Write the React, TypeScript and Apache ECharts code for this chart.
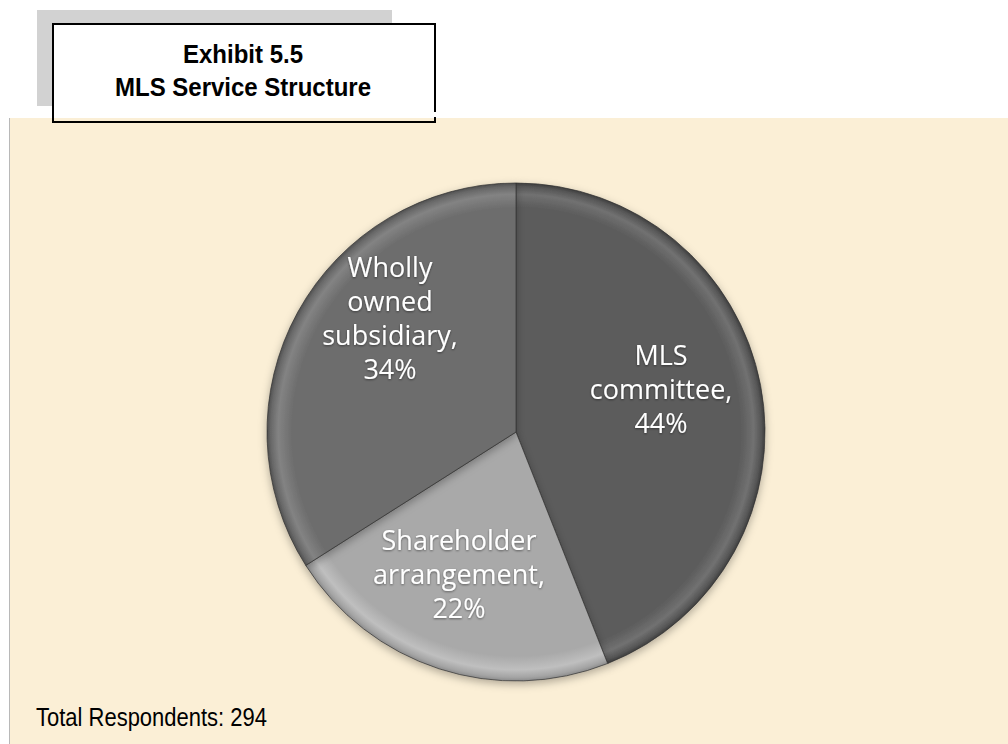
import React, { useEffect, useRef } from "react";
import * as echarts from "echarts";

const categories = ["MLS\ncommittee", "Shareholder\narrangement", "Wholly\nowned\nsubsidiary"];
const shares = [44, 22, 34];
const sliceColors = ["#5b5b5b", "#a9a9a9", "#6d6d6d"];
const labelSpots = [
  [661, 388],
  [459, 573],
  [390, 317],
];
const titleLines = ["Exhibit 5.5", "MLS Service Structure"];
const footnote = "Total Respondents: 294";

const CX = 516;
const CY = 432;
const R = 249;

function shade(hex: string, d: number) {
  const n = parseInt(hex.slice(1), 16);
  const c = (v: number) => Math.max(0, Math.min(255, v + d));
  const r = c((n >> 16) & 255), g = c((n >> 8) & 255), b = c(n & 255);
  return `rgb(${r},${g},${b})`;
}

function bevel(hex: string) {
  return new echarts.graphic.RadialGradient(
    CX,
    CY,
    R,
    [
      { offset: 0, color: hex },
      { offset: 0.9, color: hex },
      { offset: 0.955, color: shade(hex, 22) },
      { offset: 0.985, color: shade(hex, -5) },
      { offset: 1, color: shade(hex, -30) },
    ],
    true
  );
}

export default function App() {
  const ref = useRef<HTMLDivElement>(null);
  useEffect(() => {
    if (!ref.current) return;
    const chart = echarts.init(ref.current, null, { renderer: "svg" });
    chart.setOption({
      animation: false,
      backgroundColor: "#ffffff",
      graphic: [
        { type: "rect", shape: { x: 37, y: 10, width: 355, height: 96 }, style: { fill: "#d2d2d2" }, z: 1 },
        { type: "rect", shape: { x: 53, y: 24, width: 382, height: 94 }, style: { fill: "#ffffff" }, z: 2 },
        { type: "rect", shape: { x: 9, y: 118, width: 999, height: 626 }, style: { fill: "#fbefd6" }, z: 3 },
        { type: "line", shape: { x1: 9.5, y1: 118, x2: 9.5, y2: 744 }, style: { stroke: "#b8b8b8", lineWidth: 1 }, z: 4 },
        {
          type: "polyline",
          shape: { points: [[435, 112], [435, 24], [53, 24], [53, 122], [435, 122], [435, 117]] },
          style: { stroke: "#000000", lineWidth: 2, fill: null },
          z: 5,
        },
        {
          type: "text",
          x: 243,
          y: 54,
          scaleY: 1.07,
          style: {
            text: titleLines[0],
            font: 'bold 24px "Liberation Sans", Arial, sans-serif',
            fill: "#000000",
            align: "center",
            verticalAlign: "middle",
          },
          z: 6,
        },
        {
          type: "text",
          x: 243,
          y: 87,
          scaleY: 1.07,
          style: {
            text: titleLines[1],
            font: 'bold 24px "Liberation Sans", Arial, sans-serif',
            fill: "#000000",
            align: "center",
            verticalAlign: "middle",
          },
          z: 6,
        },
        {
          type: "text",
          x: 36,
          y: 717,
          scaleY: 1.2,
          style: {
            text: footnote,
            font: '22px "Liberation Sans", Arial, sans-serif',
            fill: "#000000",
            align: "left",
            verticalAlign: "middle",
          },
          z: 6,
        },
      ],
      series: [
        {
          type: "pie",
          center: [CX, CY],
          radius: [0, R],
          startAngle: 90,
          clockwise: true,
          z: 10,
          silent: true,
          itemStyle: {
            borderColor: "rgba(50,50,50,0.7)",
            borderWidth: 1,
            shadowBlur: 8,
            shadowOffsetY: 3,
            shadowColor: "rgba(0,0,0,0.3)",
          },
          label: {
            show: true,
            position: "inside",
            formatter: "{b},\n{c}%",
            color: "#ffffff",
            fontFamily: '"Open Sans", "Noto Sans", sans-serif',
            fontSize: 27,
            lineHeight: 34,
            align: "center",
            textShadowColor: "rgba(0,0,0,0.45)",
            textShadowBlur: 2,
            textShadowOffsetY: 1,
          },
          labelLine: { show: false },
          labelLayout: (p: any) => ({
            x: labelSpots[p.dataIndex][0],
            y: labelSpots[p.dataIndex][1],
            align: "center",
            verticalAlign: "middle",
          }),
          data: categories.map((name, i) => ({
            name,
            value: shares[i],
            itemStyle: { color: bevel(sliceColors[i]) },
          })),
        },
      ],
    });
    return () => chart.dispose();
  }, []);
  return (
    <div
      ref={ref}
      style={{ position: "fixed", left: 0, top: 0, width: 1008, height: 744 }}
    />
  );
}
